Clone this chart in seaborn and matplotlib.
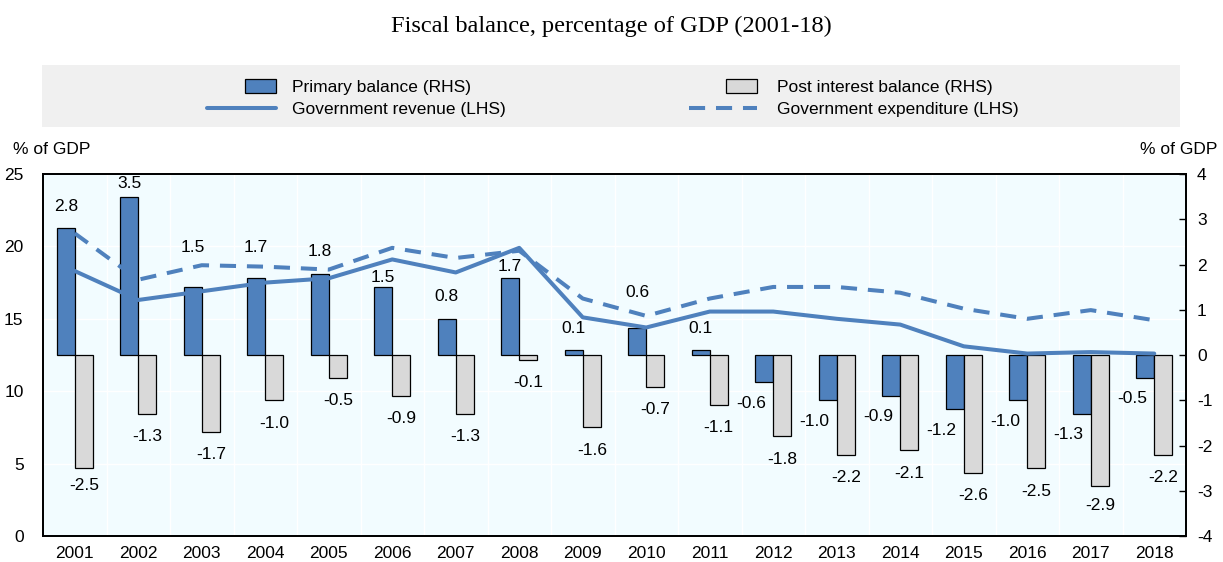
import numpy as np
import pandas as pd
import matplotlib
matplotlib.use("Agg")
import matplotlib.pyplot as plt
from matplotlib.patches import Rectangle
from matplotlib.lines import Line2D
from matplotlib.legend_handler import HandlerPatch
import seaborn as sns

# ---- data -----------------------------------------------------------------
years = ["2001", "2002", "2003", "2004", "2005", "2006", "2007", "2008", "2009",
         "2010", "2011", "2012", "2013", "2014", "2015", "2016", "2017", "2018"]
primary_balance = [2.8, 3.5, 1.5, 1.7, 1.8, 1.5, 0.8, 1.7, 0.1,
                   0.6, 0.1, -0.6, -1.0, -0.9, -1.2, -1.0, -1.3, -0.5]
post_interest_balance = [-2.5, -1.3, -1.7, -1.0, -0.5, -0.9, -1.3, -0.1, -1.6,
                         -0.7, -1.1, -1.8, -2.2, -2.1, -2.6, -2.5, -2.9, -2.2]
gov_revenue = [18.3, 16.3, 16.9, 17.5, 17.8, 19.1, 18.2, 19.9, 15.1,
               14.4, 15.5, 15.5, 15.0, 14.6, 13.1, 12.6, 12.7, 12.6]
gov_expenditure = [20.9, 17.7, 18.7, 18.6, 18.4, 19.9, 19.2, 19.7, 16.4,
                   15.2, 16.4, 17.2, 17.2, 16.8, 15.7, 15.0, 15.6, 14.9]

bar_names = ["Primary balance (RHS)", "Post interest balance (RHS)"]
line_names = ["Government revenue (LHS)", "Government expenditure (LHS)"]

bars_df = pd.DataFrame({
    "year": years * 2,
    "value": primary_balance + post_interest_balance,
    "series": [bar_names[0]] * len(years) + [bar_names[1]] * len(years),
})
lines_df = pd.DataFrame({
    "pos": list(range(len(years))) * 2,
    "value": gov_revenue + gov_expenditure,
    "series": [line_names[0]] * len(years) + [line_names[1]] * len(years),
})

# ---- style ----------------------------------------------------------------
sns.set_theme(style="white")
plt.rcParams["font.family"] = ["Liberation Sans Narrow", "Liberation Sans", "DejaVu Sans"]
plt.rcParams["text.color"] = "black"
plt.rcParams["axes.labelcolor"] = "black"
plt.rcParams["xtick.color"] = "black"
plt.rcParams["ytick.color"] = "black"
plt.rcParams["axes.unicode_minus"] = False
FS = 12.5
BLUE = "#4F81BD"
GREY = "#D9D9D9"
BG = "#F2FCFF"

W, H = 1223, 562
fig = plt.figure(figsize=(W / 100, H / 100), dpi=100)
fig.patch.set_facecolor("white")

def fx(px):
    return px / W

def fy(py):
    return 1 - py / H

ax = fig.add_axes([fx(43), fy(536), fx(1186) - fx(43), fy(174) - fy(536)])
axb = ax.twinx()

# lines axis on top of the bar axis
ax.set_zorder(axb.get_zorder() + 1)
ax.patch.set_visible(False)
axb.patch.set_visible(True)
axb.patch.set_facecolor(BG)

# ---- bars (right scale) ---------------------------------------------------
sns.barplot(data=bars_df, x="year", y="value", hue="series",
            palette=[BLUE, GREY], width=0.57, edgecolor="black",
            linewidth=0.9, saturation=1, ax=axb, legend=False, zorder=2)
axb.set_ylim(-4, 4)
axb.set_xlim(-0.5, len(years) - 0.5)

# ---- lines (left scale) ---------------------------------------------------
sns.lineplot(data=lines_df, x="pos", y="value", hue="series", style="series",
             palette=[BLUE, BLUE],
             dashes={line_names[0]: "", line_names[1]: (4.0, 2.7)},
             linewidth=2.9, ax=ax, legend=False)
ax.set_ylim(0, 25)
ax.set_xlim(-0.5, len(years) - 0.5)

# ---- grid (drawn under the bars) -----------------------------------------
for b in np.arange(0.5, len(years) - 0.5, 1.0):
    axb.axvline(b, color="white", lw=1.0, zorder=0.5)
for v in [5, 10, 15, 20]:
    axb.add_line(Line2D([0, 1], [v, v], transform=ax.get_yaxis_transform(),
                        color="white", lw=1.0, zorder=0.5))

# ---- axes / ticks ---------------------------------------------------------
ax.set_xlabel("")
ax.set_ylabel("")
axb.set_xlabel("")
axb.set_ylabel("")
ax.set_xticks(range(len(years)))
ax.set_xticklabels(years)
ax.set_xticks(np.arange(0.5, len(years) - 0.5, 1.0), minor=True)
ax.tick_params(axis="x", which="major", length=0, pad=7, labelsize=FS, colors="black")
ax.tick_params(axis="x", which="minor", direction="in", length=5, width=1, color="black")
ax.set_yticks([0, 5, 10, 15, 20, 25])
ax.tick_params(axis="y", which="both", left=False, right=False, length=0, pad=14,
               labelsize=FS, labelcolor="black")
axb.set_yticks(range(-4, 5))
axb.tick_params(axis="y", which="major", direction="in", length=5, width=1,
                color="black", pad=8, labelsize=FS, labelcolor="black")
axb.tick_params(axis="x", which="both", bottom=False, labelbottom=False)

for a in (ax, axb):
    for s in a.spines.values():
        s.set_visible(True)
        s.set_color("black")
        s.set_linewidth(1.3)

# ---- value labels ---------------------------------------------------------
PX = 0.72  # points per pixel at 100 dpi
pos_gap = {"2002": 13, "2003": 40, "2004": 31, "2006": 10, "2008": 12, "2010": 35}
neg_gap = {"2001": 17, "2017": 19}

primary_bars = axb.containers[0]
post_bars = axb.containers[1]
for yr, val, rect in zip(years, primary_balance, primary_bars):
    cx = rect.get_x() + rect.get_width() / 2
    if val >= 0:
        off = (0, pos_gap.get(yr, 22) * PX)
    else:
        off = (-13 * PX, -21 * PX)
    axb.annotate(f"{val:.1f}", (cx, val), xytext=off, textcoords="offset points",
                 ha="center", va="center", fontsize=FS, color="black", zorder=5)
for yr, val, rect in zip(years, post_interest_balance, post_bars):
    cx = rect.get_x() + rect.get_width() / 2
    off = (0, -neg_gap.get(yr, 23) * PX)
    axb.annotate(f"{val:.1f}", (cx, val), xytext=off, textcoords="offset points",
                 ha="center", va="center", fontsize=FS, color="black", zorder=5)

# ---- axis captions and title ---------------------------------------------
fig.text(fx(13), fy(150), "% of GDP", ha="left", va="center", fontsize=FS)
fig.text(fx(1217), fy(150), "% of GDP", ha="right", va="center", fontsize=FS)
fig.text(0.5, fy(26), "Fiscal balance, percentage of GDP (2001-18)",
         ha="center", va="center", fontsize=17.6, family="Liberation Serif")

# ---- legend ---------------------------------------------------------------
fig.add_artist(Rectangle((fx(42), fy(127)), fx(1180) - fx(42), fy(65) - fy(127),
                         transform=fig.transFigure, facecolor="#F0F0F0",
                         edgecolor="none", zorder=0))

def small_box(legend, orig_handle, xdescent, ydescent, width, height, fontsize):
    w, h = 31 * PX, 14 * PX
    return Rectangle((-xdescent + width - w, -ydescent + (height - h) / 2), w, h)

hmap = {Rectangle: HandlerPatch(patch_func=small_box)}
fs_px = FS / PX
lines = [l for l in ax.get_lines() if len(l.get_xdata()) == len(years)]
rev_line, exp_line = lines[0], lines[1]

fig.legend([primary_bars.patches[0], rev_line], [bar_names[0], line_names[0]],
           loc="center left", bbox_to_anchor=(fx(207), fy(98.5)),
           frameon=False, fontsize=FS, borderpad=0, borderaxespad=0,
           handlelength=69 / fs_px, handletextpad=16 / fs_px,
           labelspacing=0.4, handler_map=hmap)
fig.legend([post_bars.patches[0], exp_line], [bar_names[1], line_names[1]],
           loc="center left", bbox_to_anchor=(fx(689), fy(98.5)),
           frameon=False, fontsize=FS, borderpad=0, borderaxespad=0,
           handlelength=68 / fs_px, handletextpad=20 / fs_px,
           labelspacing=0.4, handler_map=hmap)

fig.savefig("out.png", dpi=100)
